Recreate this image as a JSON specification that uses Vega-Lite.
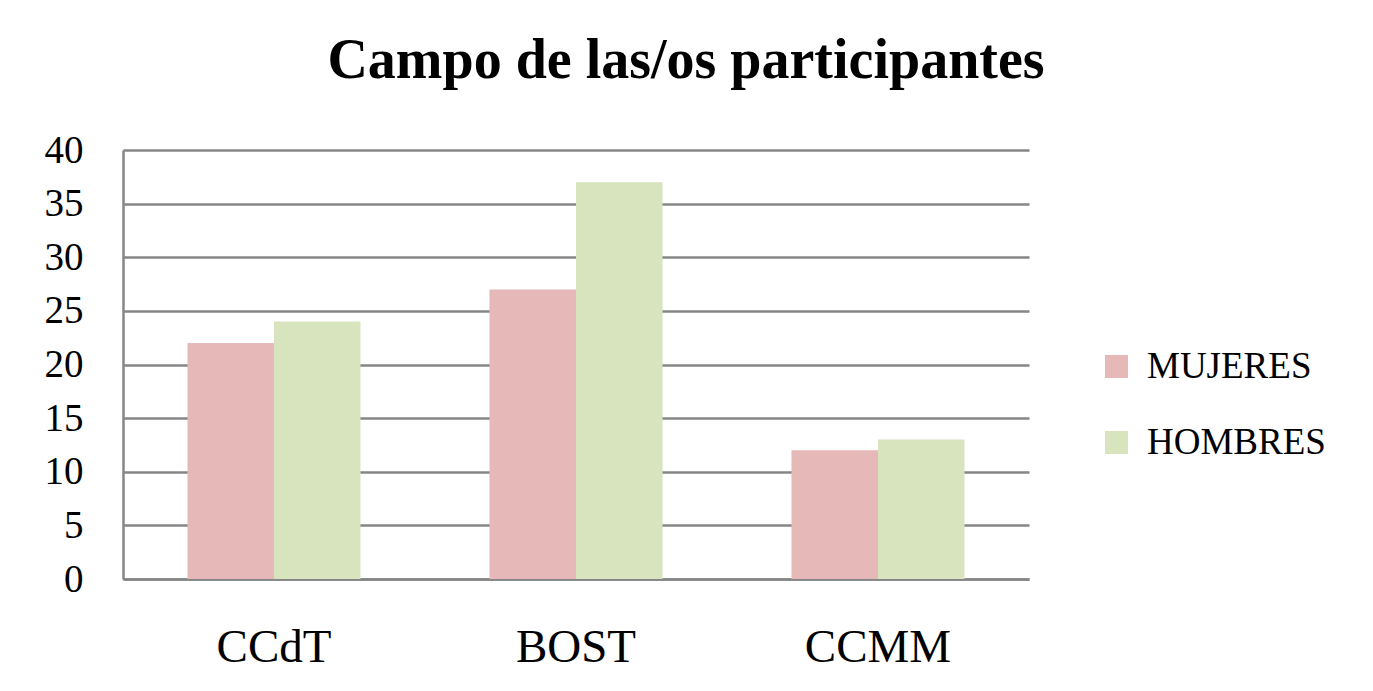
{
  "$schema": "https://vega.github.io/schema/vega-lite/v6.json",
  "autosize": "none",
  "padding": {"left": 123, "top": 150, "right": 344, "bottom": 112},
  "width": 906,
  "height": 429,
  "background": "white",
  "title": {
    "text": "Campo de las/os participantes",
    "font": "Liberation Serif",
    "fontWeight": "bold",
    "fontSize": 56,
    "color": "#000000",
    "anchor": "middle",
    "frame": "group",
    "dx": 110,
    "baseline": "alphabetic",
    "offset": -3
  },
  "data": {
    "values": [
      {"campo": "CCdT", "genero": "MUJERES", "valor": 22},
      {"campo": "CCdT", "genero": "HOMBRES", "valor": 24},
      {"campo": "BOST", "genero": "MUJERES", "valor": 27},
      {"campo": "BOST", "genero": "HOMBRES", "valor": 37},
      {"campo": "CCMM", "genero": "MUJERES", "valor": 12},
      {"campo": "CCMM", "genero": "HOMBRES", "valor": 13}
    ]
  },
  "mark": {"type": "bar"},
  "encoding": {
    "x": {
      "field": "campo",
      "type": "nominal",
      "sort": ["CCdT", "BOST", "CCMM"],
      "scale": {"paddingInner": 0.427, "paddingOuter": 0.2135},
      "axis": {
        "title": null,
        "labelAngle": 0,
        "ticks": false,
        "labelPadding": 82,
        "labelFont": "Liberation Serif",
        "labelFontSize": 47,
        "labelColor": "#000000",
        "labelBaseline": "alphabetic",
        "domainColor": "#868686",
        "domainWidth": 2.5,
        "grid": false
      }
    },
    "xOffset": {
      "field": "genero",
      "type": "nominal",
      "sort": ["MUJERES", "HOMBRES"],
      "scale": {"paddingInner": 0, "paddingOuter": 0}
    },
    "y": {
      "field": "valor",
      "type": "quantitative",
      "scale": {"domain": [0, 40], "nice": false},
      "axis": {
        "title": null,
        "values": [0, 5, 10, 15, 20, 25, 30, 35, 40],
        "ticks": false,
        "labelPadding": 40,
        "labelFont": "Liberation Serif",
        "labelFontSize": 39,
        "labelColor": "#000000",
        "domainColor": "#868686",
        "domainWidth": 2.5,
        "grid": true,
        "gridColor": "#868686",
        "gridWidth": 2.5,
        "gridOpacity": 1
      }
    },
    "color": {
      "field": "genero",
      "type": "nominal",
      "sort": ["MUJERES", "HOMBRES"],
      "scale": {"domain": ["MUJERES", "HOMBRES"], "range": ["#E6B9B8", "#D7E4BD"]},
      "legend": {
        "title": null,
        "orient": "none",
        "legendX": 975,
        "legendY": 198,
        "symbolType": "square",
        "symbolSize": 529,
        "symbolStrokeWidth": 0,
        "labelFont": "Liberation Serif",
        "labelFontSize": 37,
        "labelLimit": 400,
        "labelColor": "#000000",
        "labelOffset": 12,
        "rowPadding": 38
      }
    }
  },
  "config": {
    "view": {"stroke": null}
  }
}
